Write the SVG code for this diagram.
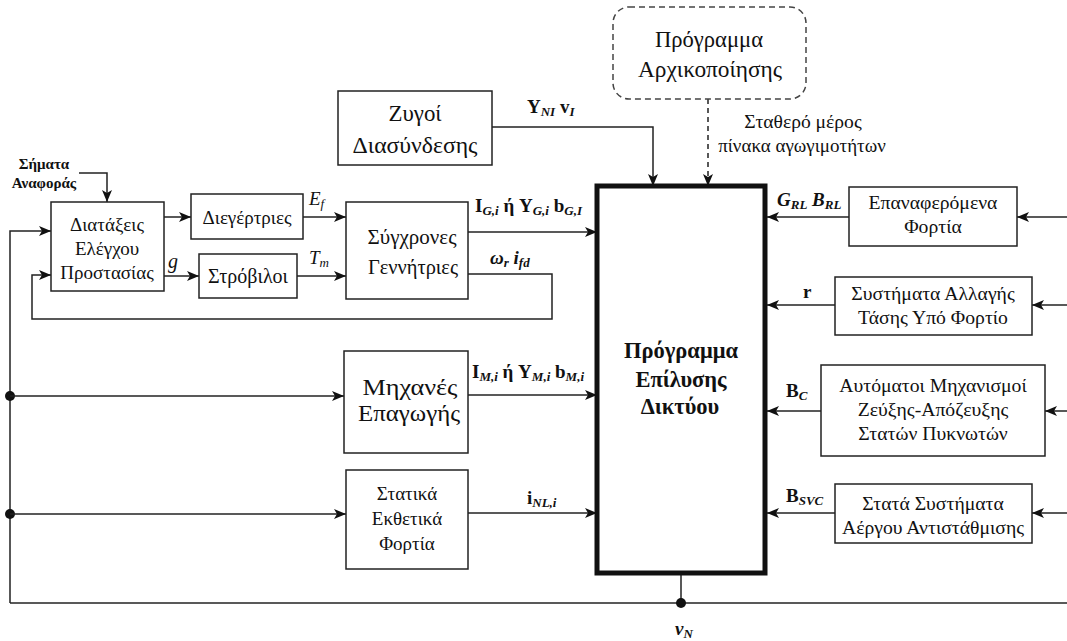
<svg xmlns="http://www.w3.org/2000/svg" width="1067" height="641" viewBox="0 0 1067 641">
<style>
.box{fill:#fff;stroke:#222;stroke-width:1.5}
.ln{fill:none;stroke:#222;stroke-width:1.5}
.ar{marker-end:url(#ah)}
.t{font-family:"Liberation Serif","DejaVu Serif",serif;font-size:19px;fill:#111;text-anchor:middle}
.r{font-size:19.7px}
.lb{font-family:"Liberation Serif","DejaVu Serif",serif;font-size:19px;fill:#111;font-weight:bold}
.it{font-style:italic}
.nw{font-weight:normal}
.sb{font-size:13px;font-style:italic;font-weight:bold}
</style>
<defs>
<marker id="ah" viewBox="0 0 12 10" refX="12" refY="5" markerWidth="12" markerHeight="10" markerUnits="userSpaceOnUse" orient="auto">
<path d="M0,0 L12,5 L0,10 L3,5 z" fill="#111"/>
</marker>
</defs>
<rect width="1067" height="641" fill="#fff"/>

<g id="connectors">
<path class="ln ar" d="M79,173 H107 V202"/>
<path class="ln ar" d="M164,217 H191"/>
<path class="ln ar" d="M164,276 H199"/>
<path class="ln ar" d="M303,217 H346"/>
<path class="ln ar" d="M297,276 H346"/>
<path class="ln ar" d="M468,232 H597"/>
<path class="ln ar" d="M468,274 H552 V319 H32 V275 H51"/>
<path class="ln ar" d="M10,603 V231 H51"/>
<path class="ln" d="M10,603 H1067"/>
<path class="ln" d="M681,573 V603"/>
<circle cx="681" cy="603" r="5" fill="#111"/>
<circle cx="10" cy="396" r="5" fill="#111"/>
<circle cx="10" cy="514" r="5" fill="#111"/>
<path class="ln ar" d="M10,396 H344"/>
<path class="ln ar" d="M10,514 H346"/>
<path class="ln ar" d="M468,395 H597"/>
<path class="ln ar" d="M468,513 H597"/>
<path class="ln ar" d="M492,127 H653 V186"/>
<path class="ln ar" d="M708,99 V186" stroke-dasharray="5,4" stroke="#555"/>
<path class="ln ar" d="M849,217 H767"/>
<path class="ln ar" d="M835,305 H767"/>
<path class="ln ar" d="M821,411 H767"/>
<path class="ln ar" d="M835,513 H767"/>
<path class="ln ar" d="M1067,217 H1017"/>
<path class="ln ar" d="M1067,305 H1032"/>
<path class="ln ar" d="M1067,411 H1045"/>
<path class="ln ar" d="M1067,513 H1032"/>

<text class="lb" x="44" y="169" text-anchor="middle" style="font-size:15px">Σήματα</text>
<text class="lb" x="44" y="188" text-anchor="middle" style="font-size:15px">Αναφοράς</text>
<text class="lb it nw" x="309" y="205">E<tspan font-size="13" dy="3">f</tspan></text>
<text class="lb it nw" x="309" y="264">T<tspan font-size="13" dy="3">m</tspan></text>
<text class="lb it nw" x="168" y="268" style="font-size:20px">g</text>
<text class="lb" x="475" y="212">I<tspan class="sb" dy="3">G,i</tspan><tspan dy="-3"> ή Y</tspan><tspan class="sb" dy="3">G,i</tspan><tspan dy="-3"> b</tspan><tspan class="sb" dy="3">G,I</tspan></text>
<text class="lb it" x="490" y="264">ω<tspan font-size="13" dy="3">r</tspan><tspan dy="-3"> i</tspan><tspan font-size="13" dy="3">fd</tspan></text>
<text class="lb" x="527" y="113">Y<tspan class="sb" dy="3">NI</tspan><tspan dy="-3"> v</tspan><tspan class="sb" dy="3">I</tspan></text>
<text class="t" x="803" y="128" style="font-size:19.6px">Σταθερό μέρος</text>
<text class="t" x="802" y="152">πίνακα αγωγιμοτήτων</text>
<text class="lb" x="472" y="378">I<tspan class="sb" dy="3">M,i</tspan><tspan dy="-3"> ή Y</tspan><tspan class="sb" dy="3">M,i</tspan><tspan dy="-3"> b</tspan><tspan class="sb" dy="3">M,i</tspan></text>
<text class="lb" x="527" y="504">i<tspan class="sb" dy="3">NL,i</tspan></text>
<text class="lb it" x="777" y="206">G<tspan class="sb" dy="3">RL</tspan><tspan dy="-3"> B</tspan><tspan class="sb" dy="3">RL</tspan></text>
<text class="lb" x="803" y="298">r</text>
<text class="lb" x="786" y="397">B<tspan class="sb" dy="3">C</tspan></text>
<text class="lb" x="786" y="502">B<tspan class="sb" dy="3">SVC</tspan></text>
<text class="lb it" x="675" y="635">v<tspan class="sb" dy="3">N</tspan></text>
</g>

<g id="n-control"><rect class="box" x="51" y="202" width="113" height="89"/>
<text class="t" x="107" y="231">Διατάξεις</text><text class="t" x="107" y="255">Ελέγχου</text><text class="t" x="107" y="279">Προστασίας</text></g>

<g id="n-exciter"><rect class="box" x="191" y="194" width="112" height="45"/>
<text class="t" x="247" y="224">Διεγέρτριες</text></g>

<g id="n-turbine"><rect class="box" x="199" y="254" width="98" height="44"/>
<text class="t" x="248" y="283" style="font-size:20px">Στρόβιλοι</text></g>

<g id="n-sync"><rect class="box" x="346" y="202" width="122" height="97"/>
<text class="t" x="412" y="244" style="font-size:22px" textLength="89" lengthAdjust="spacingAndGlyphs">Σύγχρονες</text><text class="t" x="413" y="274" style="font-size:22px" textLength="90" lengthAdjust="spacingAndGlyphs">Γεννήτριες</text></g>

<g id="n-tie"><rect class="box" x="338" y="91" width="154" height="74"/>
<text class="t" x="415" y="121" style="font-size:23px" textLength="53" lengthAdjust="spacingAndGlyphs">Ζυγοί</text><text class="t" x="415" y="153" style="font-size:23px" textLength="125" lengthAdjust="spacingAndGlyphs">Διασύνδεσης</text></g>

<g id="n-init"><rect x="613" y="7" width="193" height="92" rx="16" fill="#fff" stroke="#444" stroke-width="1.5" stroke-dasharray="6,4"/>
<text class="t" x="709" y="47" style="font-size:23px" textLength="108" lengthAdjust="spacingAndGlyphs">Πρόγραμμα</text><text class="t" x="710" y="77" style="font-size:23px" textLength="144" lengthAdjust="spacingAndGlyphs">Αρχικοποίησης</text></g>

<g id="n-solver"><rect x="597" y="186" width="168" height="387" fill="#fff" stroke="#111" stroke-width="5"/>
<text class="t" x="681" y="358" style="font-size:22.5px;font-weight:bold">Πρόγραμμα</text><text class="t" x="681" y="387" style="font-size:22.5px;font-weight:bold">Επίλυσης</text><text class="t" x="680" y="414" style="font-size:22.5px;font-weight:bold">Δικτύου</text></g>

<g id="n-induction"><rect class="box" x="344" y="351" width="124" height="102"/>
<text class="t" x="410" y="395" style="font-size:23px" textLength="95" lengthAdjust="spacingAndGlyphs">Μηχανές</text><text class="t" x="409" y="421" style="font-size:23px" textLength="102" lengthAdjust="spacingAndGlyphs">Επαγωγής</text></g>

<g id="n-static"><rect class="box" x="346" y="470" width="122" height="99"/>
<text class="t" x="407" y="500">Στατικά</text><text class="t" x="407" y="525">Εκθετικά</text><text class="t" x="407" y="550">Φορτία</text></g>

<g id="n-restore"><rect class="box" x="849" y="187" width="168" height="59"/>
<text class="t r" x="933" y="209">Επαναφερόμενα</text><text class="t r" x="933" y="233">Φορτία</text></g>

<g id="n-ltc"><rect class="box" x="835" y="277" width="197" height="58"/>
<text class="t r" x="933" y="300">Συστήματα Αλλαγής</text><text class="t r" x="933" y="324">Τάσης Υπό Φορτίο</text></g>

<g id="n-caps"><rect class="box" x="821" y="365" width="224" height="91"/>
<text class="t r" x="933" y="392">Αυτόματοι Μηχανισμοί</text><text class="t r" x="933" y="416">Ζεύξης-Απόζευξης</text><text class="t r" x="933" y="440">Στατών Πυκνωτών</text></g>

<g id="n-svc"><rect class="box" x="835" y="484" width="197" height="59"/>
<text class="t r" x="933" y="510">Στατά Συστήματα</text><text class="t r" x="933" y="534">Αέργου Αντιστάθμισης</text></g>
</svg>
